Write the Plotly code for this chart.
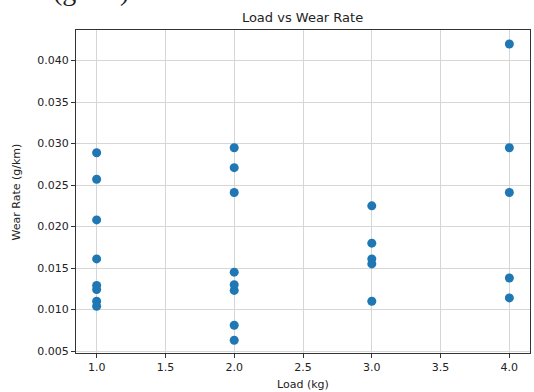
import plotly.graph_objects as go

load_1 = [1.0, 1.0, 1.0, 1.0, 1.0, 1.0, 1.0, 1.0]
wear_1 = [0.0289, 0.0257, 0.0208, 0.0161, 0.0129, 0.0124, 0.0110, 0.0104]
load_2 = [2.0, 2.0, 2.0, 2.0, 2.0, 2.0, 2.0, 2.0]
wear_2 = [0.0295, 0.0271, 0.0241, 0.0145, 0.0130, 0.0123, 0.0081, 0.0063]
load_3 = [3.0, 3.0, 3.0, 3.0, 3.0]
wear_3 = [0.0225, 0.0180, 0.0161, 0.0155, 0.0110]
load_4 = [4.0, 4.0, 4.0, 4.0, 4.0]
wear_4 = [0.0420, 0.0295, 0.0241, 0.0138, 0.0114]

x_ticks = [1.0, 1.5, 2.0, 2.5, 3.0, 3.5, 4.0]
y_ticks = [0.005, 0.010, 0.015, 0.020, 0.025, 0.030, 0.035, 0.040]

loads = load_1 + load_2 + load_3 + load_4
wears = wear_1 + wear_2 + wear_3 + wear_4

fig = go.Figure()
fig.add_trace(go.Scatter(
    x=loads, y=wears, mode="markers",
    marker=dict(color="#1f77b4", size=9, line=dict(width=0)),
    showlegend=False,
))

font = "DejaVu Sans"
axis_common = dict(
    showline=True, linecolor="#333333", linewidth=1, mirror=True,
    ticks="outside", ticklen=4, tickcolor="#333333", tickwidth=1,
    showgrid=True, gridcolor="#d6d6d6", gridwidth=1,
    zeroline=False, automargin=False,
    tickfont=dict(family=font, size=11, color="#222222"),
)

fig.update_layout(
    width=534, height=392,
    margin=dict(l=76, r=4, t=30, b=39),
    paper_bgcolor="white", plot_bgcolor="white",
    title=dict(text="Load vs Wear Rate", x=0.5665, xanchor="center", y=0.9566, yanchor="middle",
               font=dict(family=font, size=13, color="#222222")),
    xaxis=dict(range=[0.85, 4.15], tickvals=x_ticks,
               ticktext=[f"{v:.1f}" for v in x_ticks],
               **axis_common),
    yaxis=dict(range=[0.00476, 0.04369], tickvals=y_ticks,
               ticktext=[f"{v:.3f}" for v in y_ticks],
               **axis_common),
)

# axis titles
fig.add_annotation(
    text="Load (kg)", xref="paper", yref="paper", x=0.5, y=-0.099,
    xanchor="center", yanchor="middle", showarrow=False,
    font=dict(family=font, size=11, color="#222222"),
)
fig.add_annotation(
    text="Wear Rate (g/km)", xref="paper", yref="paper", x=-0.130, y=0.5,
    xanchor="center", yanchor="middle", textangle=-90, showarrow=False,
    font=dict(family=font, size=11, color="#222222"),
)

# cropped fragment of surrounding document text at top-left
fig.add_annotation(
    text="m", xref="paper", yref="paper", x=-0.183, y=1.067,
    xanchor="left", yanchor="bottom", showarrow=False,
    font=dict(family="Liberation Serif", size=28, color="#222222"),
)
fig.add_annotation(
    text="(g/km)", xref="paper", yref="paper", x=-0.056, y=1.067,
    xanchor="left", yanchor="bottom", showarrow=False,
    font=dict(family="Liberation Serif", size=28, color="#222222"),
)

fig.write_html("out.html", config={"displayModeBar": False},
               post_script="document.body.style.margin='0';document.body.style.overflow='hidden';")
